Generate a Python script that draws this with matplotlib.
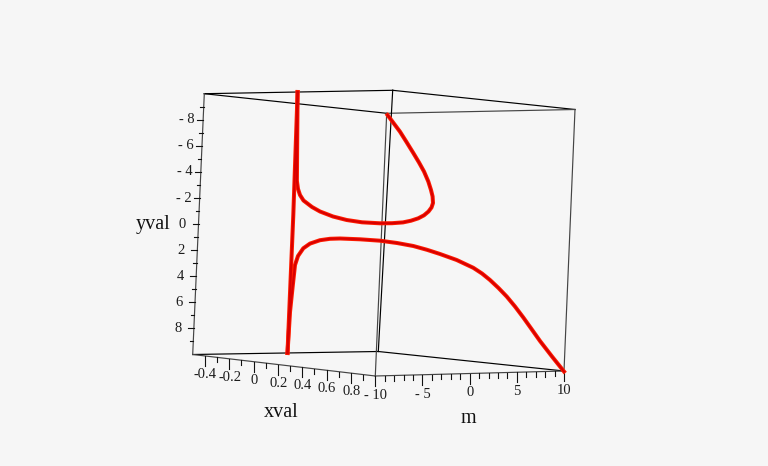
import numpy as np
import matplotlib
matplotlib.use("Agg")
import matplotlib.pyplot as plt

# Picture-space frame of the 3-D box (pixels)
corner_top_back_left = (204.3, 93.7)
corner_top_back_right = (392.7, 90.3)
corner_top_front_left = (386.7, 113.3)
corner_top_front_right = (575.0, 109.5)
corner_bot_back_left = (192.7, 354.5)
corner_bot_back_right = (378.3, 351.5)
corner_bot_front_left = (375.3, 376.0)
corner_bot_front_right = (564.0, 371.0)

# Axis ranges and ticks
x_range = (-0.5, 1.0)
m_range = (-10, 10)
y_range = (-10, 10)
x_major = [-0.4, -0.2, 0, 0.2, 0.4, 0.6, 0.8]
x_major_labels = ["-0.4", "-0.2", "0", "0.2", "0.4", "0.6", "0.8"]
x_minor = [-0.3, -0.1, 0.1, 0.3, 0.5, 0.7, 0.9]
m_major = [-10, -5, 0, 5, 10]
m_major_labels = ["- 10", "- 5", "0", "5", "10"]
m_minor = [-9, -8, -7, -6, -4, -3, -2, -1, 1, 2, 3, 4, 6, 7, 8, 9]
y_major = [-8, -6, -4, -2, 0, 2, 4, 6, 8]
y_major_labels = ["- 8", "- 6", "- 4", "- 2", "0", "2", "4", "6", "8"]
y_minor = [-9, -7, -5, -3, -1, 1, 3, 5, 7, 9]

# Projected red curve branches (pixels)
branch_a_px = [297.6, 293.3, 287.5]
branch_a_py = [92.0, 215.0, 353.0]
branch_b_px = [297.6, 297.2, 296.9, 298.0, 300.0, 303.5, 312.0, 320.0, 333.0, 346.7, 362.0, 380.0,
               392.0, 403.0, 411.0, 418.3, 424.0, 428.5, 431.5, 433.0, 432.6, 431.0, 428.3, 424.0,
               419.0, 413.3, 406.5, 400.0, 393.5, 387.5]
branch_b_py = [92.0, 140.0, 181.0, 189.0, 195.0, 200.5, 207.0, 211.5, 216.5, 220.0, 222.3, 223.3,
               223.2, 222.4, 220.7, 218.3, 215.3, 211.5, 207.5, 203.0, 196.5, 190.0, 181.5, 171.5,
               162.5, 153.0, 142.0, 131.7, 123.0, 115.0]
branch_c_px = [287.5, 290.0, 292.5, 295.0, 298.0, 303.3, 310.0, 320.0, 330.0, 340.0, 360.0, 380.0,
               397.0, 413.3, 427.0, 440.0, 456.7, 473.3, 482.0, 490.0, 498.5, 506.7, 515.0, 523.3,
               531.5, 540.0, 552.0, 564.0]
branch_c_py = [353.0, 312.0, 288.0, 265.0, 256.0, 248.3, 243.6, 240.2, 238.8, 238.5, 239.3, 240.7,
               243.0, 246.0, 249.8, 254.0, 260.0, 267.8, 273.5, 280.0, 288.0, 296.5, 306.5, 317.5,
               329.0, 341.0, 356.5, 371.5]

BG = "#f6f6f6"
INK = "#000000"
GREY_INK = "#444444"
TXT = "#1c1c1c"

plt.rcParams["font.family"] = ["Liberation Serif", "DejaVu Serif"]
fig = plt.figure(figsize=(7.68, 4.66), dpi=100, facecolor=BG)
ax = fig.add_axes([0, 0, 1, 1])
ax.set_xlim(0, 768)
ax.set_ylim(466, 0)
ax.axis("off")


def along(p0, p1, v, rng):
    t = (v - rng[0]) / (rng[1] - rng[0])
    return p0[0] + t * (p1[0] - p0[0]), p0[1] + t * (p1[1] - p0[1])


edges = [
    (corner_top_back_left, corner_top_back_right, INK),
    (corner_top_back_left, corner_top_front_left, INK),
    (corner_top_back_right, corner_top_front_right, INK),
    (corner_top_front_left, corner_top_front_right, GREY_INK),
    (corner_bot_back_left, corner_bot_back_right, INK),
    (corner_bot_back_left, corner_bot_front_left, GREY_INK),
    (corner_bot_back_right, corner_bot_front_right, INK),
    (corner_bot_front_left, corner_bot_front_right, GREY_INK),
    (corner_top_back_left, corner_bot_back_left, GREY_INK),
    (corner_top_back_right, corner_bot_back_right, INK),
    (corner_top_front_left, corner_bot_front_left, GREY_INK),
    (corner_top_front_right, corner_bot_front_right, GREY_INK),
]
for a, b, col in edges:
    ax.plot([a[0], b[0]], [a[1], b[1]], color=col, lw=0.85, zorder=2,
            solid_capstyle="projecting")

# Red curve: bright edge with a darker core
for px, py in [(branch_a_px, branch_a_py), (branch_b_px, branch_b_py), (branch_c_px, branch_c_py)]:
    ax.plot(px, py, color="#ff1c00", lw=2.9, zorder=3, solid_joinstyle="round")
    ax.plot(px, py, color="#d80000", lw=1.5, zorder=4, solid_joinstyle="round")

tick_style = dict(color="#111111", lw=0.8, zorder=2)
tick_font = dict(fontsize=10.5, color=TXT, ha="center", va="center")

# xval axis
for v, lab in zip(x_major, x_major_labels):
    px, py = along(corner_bot_back_left, corner_bot_front_left, v, x_range)
    ax.plot([px, px], [py, py + 10], **tick_style)
    ax.text(px + 0.5, py + 18.5, lab, **tick_font)
for v in x_minor:
    px, py = along(corner_bot_back_left, corner_bot_front_left, v, x_range)
    ax.plot([px, px], [py, py + 5], **tick_style)

# m axis
for v, lab in zip(m_major, m_major_labels):
    px, py = along(corner_bot_front_left, corner_bot_front_right, v, m_range)
    ax.plot([px, px], [py, py + 10], **tick_style)
    ax.text(px, py + 19.5, lab, **tick_font)
for v in m_minor:
    px, py = along(corner_bot_front_left, corner_bot_front_right, v, m_range)
    ax.plot([px, px], [py, py + 5], **tick_style)

# yval axis
for v, lab in zip(y_major, y_major_labels):
    px, py = along(corner_top_back_left, corner_bot_back_left, v, y_range)
    ax.plot([px, px - 6], [py, py], **tick_style)
    ax.text(px - 16, py, lab, **tick_font)
for v in y_minor:
    px, py = along(corner_top_back_left, corner_bot_back_left, v, y_range)
    ax.plot([px, px - 3.5], [py, py], **tick_style)

title_font = dict(fontsize=14.5, color="#111111", ha="center", va="center")
ax.text(281.7, 412.5, "xval", **title_font)
ax.text(468, 418.5, "m", **title_font)
ax.text(153, 224, "yval", **title_font)

fig.savefig("out.png", dpi=100, facecolor=BG)
